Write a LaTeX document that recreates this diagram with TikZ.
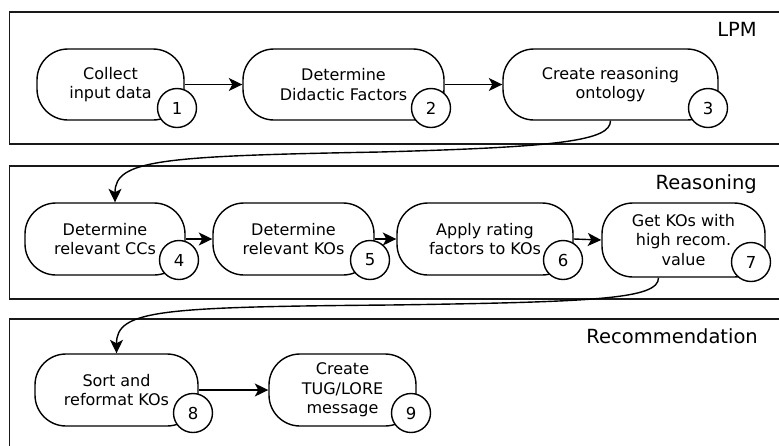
\documentclass[tikz,border=0pt]{standalone}
\usepackage{fontspec}
\setmainfont{DejaVu Sans}
\usetikzlibrary{arrows.meta}
\begin{document}
\begin{tikzpicture}[x=1pt,y=-1pt,
  panel/.style={draw=black!90, line width=1.6pt},
  stepbox/.style={draw=black, line width=1.4pt, rounded corners=31pt, inner sep=0pt,
    align=center, font=\fontsize{16}{19.5}\selectfont},
  num/.style={draw=black, line width=1.4pt, circle, fill=white, minimum size=39pt, inner sep=0pt,
    font=\fontsize{16.5}{19}\selectfont},
  lbl/.style={anchor=base east, inner sep=0pt, font=\fontsize{19.5}{23}\selectfont},
  arr/.style={draw=black, line width=1.4pt, -{Stealth[length=13.5pt,width=13pt,inset=3.5pt]}}]
\useasboundingbox (0,0) rectangle (779,445);
\clip (0,0) rectangle (779,445);
% panels
\draw[panel] (9.5,12) rectangle (800,144);
\draw[panel] (9.5,166) rectangle (800,299);
\draw[panel] (9.5,319) rectangle (800,470);
\node[lbl] (lpm) at (757,36) {LPM};
\node[lbl] (rea) at (757,189) {Reasoning};
\node[lbl] (rec) at (758,343) {Recommendation};
% nodes panel 1
\node[stepbox, minimum width=147pt, minimum height=71pt] (n1) at (110.5,84.5) {Collect\\input data};
\node[stepbox, minimum width=201pt, minimum height=71pt] (n2) at (343.5,84.5) {Determine\\Didactic Factors};
\node[stepbox, minimum width=215pt, minimum height=71pt] (n3) at (610.5,84.5) {Create reasoning\\ontology};
% panel 2
\node[stepbox, minimum width=160pt, minimum height=72pt] (n4) at (105,239) {Determine\\relevant CCs};
\node[stepbox, minimum width=161pt, minimum height=72pt] (n5) at (293.5,239) {Determine\\relevant KOs};
\node[stepbox, minimum width=176pt, minimum height=72pt] (n6) at (485,239) {Apply rating\\factors to KOs};
\node[stepbox, minimum width=163pt, minimum height=74pt] (n7) at (683.5,240) {Get KOs with\\high recom.\\value};
% panel 3
\node[stepbox, minimum width=163pt, minimum height=72pt] (n8) at (116.5,390) {Sort and\\reformat KOs};
\node[stepbox, minimum width=147pt, minimum height=72pt] (n9) at (342.5,390) {Create\\TUG/LORE\\message};
% straight connectors
\draw[arr] (n1.east) -- (n2.west);
\draw[arr] (n2.east) -- (n3.west);
\draw[arr] (n4.east) -- (n5.west);
\draw[arr] (n5.east) -- (n6.west);
\draw[arr] (n6.east) -- (n7.west);
\draw[arr] (n8.east) -- (n9.west);
% curved connectors
\coordinate (m1) at (380,152);
\coordinate (e4) at ([xshift=10pt]n4.north);
\draw[arr] (n3.south) .. controls +(0,20) and (560,147) .. (m1) .. controls (160,156) and (115,160) .. (e4);
\coordinate (s7) at ([xshift=-25pt]n7.south);
\coordinate (m2) at (390,305);
\draw[arr] (s7) .. controls +(0,21) and (600,302) .. (m2) .. controls (160,307) and (116.5,310) .. (n8.north);
% number circles
\node[num] (c1) at (177,108) {1};
\node[num] (c2) at (431,108) {2};
\node[num] (c3) at (708,108) {3};
\node[num] (c4) at (179,260) {4};
\node[num] (c5) at (370,260) {5};
\node[num] (c6) at (563,260) {6};
\node[num] (c7) at (751,262) {7};
\node[num] (c8) at (193,413) {8};
\node[num] (c9) at (411,413) {9};
\end{tikzpicture}
\end{document}
